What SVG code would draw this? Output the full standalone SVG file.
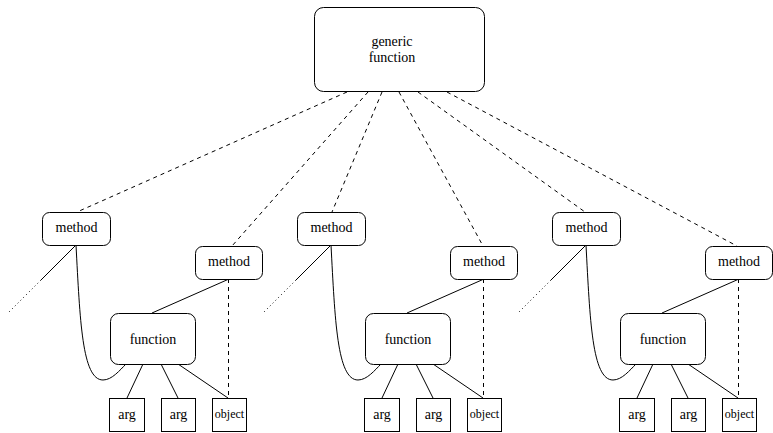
<svg xmlns="http://www.w3.org/2000/svg" width="773" height="433" viewBox="0 0 773 433">
<style>
.box{fill:#fff;stroke:#000;stroke-width:1}
text{font-family:'Liberation Serif','Times New Roman','DejaVu Serif',serif;font-size:14px;text-anchor:middle;fill:#000}
.s{font-size:12px}
.c{fill:none;stroke:#000;stroke-width:1}
.dash{stroke-dasharray:4,4}
.dot{stroke-dasharray:1,3}
</style>
<defs>
<g id="tpl-conn">
<path class="c" d="M76,245 L41,280"/>
<path class="c dot" d="M41,280 L8,313"/>
<path class="c" d="M76,245 C80,320 82,380 103,380 C112,380 120,370 126,364"/>
<path class="c" d="M229,279 L152,313"/>
<path class="c dash" d="M228.5,279 L228.5,398"/>
<path class="c" d="M143,364 L127,398 M161,364 L178,398 M178,364 L228,398"/>
</g>
</defs>
<rect width="773" height="433" fill="#fff"/>
<g id="connectors">
<path class="c dash" d="M347,92 L77,212 M368,92 L232,246 M382,92 L332,212 M399,92 L483,246 M418,92 L585,212 M447,92 L737,246"/>
<use href="#tpl-conn"/>
<use href="#tpl-conn" transform="translate(255,0)"/>
<use href="#tpl-conn" transform="translate(510,0)"/>
</g>
<g id="generic">
<rect class="box" x="314.5" y="7.5" width="170" height="84" rx="9"/>
<text font-family="Liberation Serif, serif" x="392" y="46">generic</text>
<text font-family="Liberation Serif, serif" x="392" y="62">function</text>
</g>
<g id="g1-method1"><rect class="box" x="42.5" y="212.5" width="68" height="33" rx="7"/><text x="76.5" y="232">method</text></g>
<g id="g1-method2"><rect class="box" x="195.5" y="246.5" width="67" height="33" rx="7"/><text x="229" y="266">method</text></g>
<g id="g1-function"><rect class="box" x="110.5" y="313.5" width="85" height="51" rx="8"/><text x="153" y="344">function</text></g>
<g id="g1-arg1"><rect class="box" x="109.5" y="398.5" width="35" height="33"/><text x="127" y="419">arg</text></g>
<g id="g1-arg2"><rect class="box" x="161.5" y="398.5" width="34" height="33"/><text x="178.5" y="419">arg</text></g>
<g id="g1-object"><rect class="box" x="212.5" y="398.5" width="34" height="33"/><text class="s" x="229.5" y="418">object</text></g>
<g id="g2-method1"><rect class="box" x="297.5" y="212.5" width="68" height="33" rx="7"/><text x="331.5" y="232">method</text></g>
<g id="g2-method2"><rect class="box" x="450.5" y="246.5" width="67" height="33" rx="7"/><text x="484" y="266">method</text></g>
<g id="g2-function"><rect class="box" x="365.5" y="313.5" width="85" height="51" rx="8"/><text x="408" y="344">function</text></g>
<g id="g2-arg1"><rect class="box" x="364.5" y="398.5" width="35" height="33"/><text x="382" y="419">arg</text></g>
<g id="g2-arg2"><rect class="box" x="416.5" y="398.5" width="34" height="33"/><text x="433.5" y="419">arg</text></g>
<g id="g2-object"><rect class="box" x="467.5" y="398.5" width="34" height="33"/><text class="s" x="484.5" y="418">object</text></g>
<g id="g3-method1"><rect class="box" x="552.5" y="212.5" width="68" height="33" rx="7"/><text x="586.5" y="232">method</text></g>
<g id="g3-method2"><rect class="box" x="705.5" y="246.5" width="67" height="33" rx="7"/><text x="739" y="266">method</text></g>
<g id="g3-function"><rect class="box" x="620.5" y="313.5" width="85" height="51" rx="8"/><text x="663" y="344">function</text></g>
<g id="g3-arg1"><rect class="box" x="619.5" y="398.5" width="35" height="33"/><text x="637" y="419">arg</text></g>
<g id="g3-arg2"><rect class="box" x="671.5" y="398.5" width="34" height="33"/><text x="688.5" y="419">arg</text></g>
<g id="g3-object"><rect class="box" x="722.5" y="398.5" width="34" height="33"/><text class="s" x="739.5" y="418">object</text></g>
</svg>
